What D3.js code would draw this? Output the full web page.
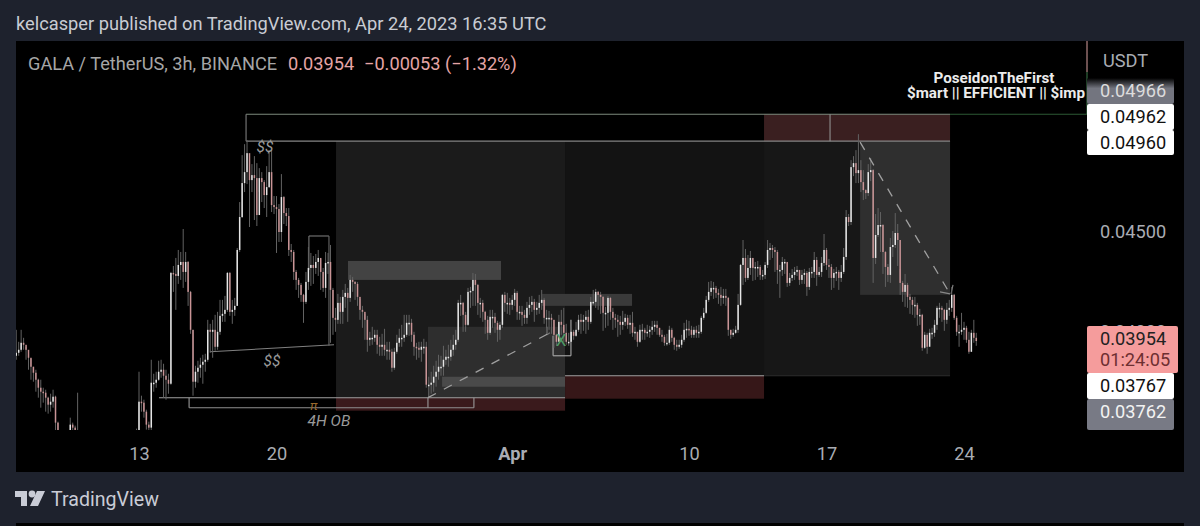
<!DOCTYPE html>
<html>
<head>
<title>GALA / TetherUS</title>
<script src="https://d3js.org/d3.v7.min.js"></script>
<style>
	body { margin: 0; background: #1e222d; overflow: hidden; }
	svg { display: block; font-family: Roboto, sans-serif; }
	.axis text { font-family: Roboto, sans-serif; font-size: 18.2px; fill: #a9acb3; }
	.axis path, .axis line { display: none; }
	.note { font-style: italic; font-size: 15.5px; fill: #9a9a9a; }
</style>
</head>
<body>
<script>
// prices are in units of 0.00001, one row per day, first candle Mar 6 18:00 UTC, 3h bars
var closes = [
	3895,3910,3945,3935,3910,3870,3825,3795,
	3760,3720,3700,3695,3670,3635,3650,3675,
	3545,3460,3410,3385,3385,3435,3535,3520,
	3485,3500,3460,3435,3410,3385,3385,3410,
	3400,3385,3410,3435,3410,3385,3400,3410,
	3420,3410,3435,3460,3450,3435,3460,3485,
	3460,3500,3650,3645,3600,3535,3520,3745,
	3745,3760,3800,3810,3780,3760,3740,4295,
	4290,4280,4335,4350,4300,4350,4200,4010,
	3750,3800,3820,3835,3850,3860,4010,4000,
	4010,3925,4000,4080,4090,4110,4295,4100,
	4110,4130,4410,4575,4745,4800,4895,4760,
	4785,4770,4585,4770,4750,4685,4725,4800,
	4635,4625,4615,4500,4675,4595,4580,4410,
	4400,4300,4260,4235,4185,4150,4250,4320,
	4335,4320,4350,4370,4300,4220,4345,4350,
	4210,4070,4060,4145,4100,4175,4195,4170,
	4260,4250,4240,4175,4110,4100,4060,3960,
	3970,3970,3985,3935,3925,3935,3910,3910,
	3900,3820,3900,3945,3970,3970,3985,4045,
	4045,3985,3925,3920,3910,3925,3925,3735,
	3735,3745,3775,3800,3825,3825,3860,3875,
	3875,3910,3935,3960,4145,4145,4085,4035,
	4200,4205,4260,4235,4145,4145,4100,4060,
	3995,4075,4075,4045,4010,4035,4185,4145,
	4145,4135,4160,4195,4100,4100,4085,4070,
	4120,4135,4150,4110,4120,4145,4160,4070,
	4070,4070,4060,3985,3950,4050,4035,3995,
	3950,3950,4000,3980,4010,4060,4050,4060,
	4075,4050,4150,4150,4200,4185,4175,4095,
	4095,4170,4100,4070,4060,4050,4035,4050,
	4070,4035,4045,3995,4000,3950,4010,4010,
	3995,4000,4010,4025,4035,4020,3985,3975,
	3945,3945,4010,3970,3935,3925,3935,3960,
	4010,4015,4010,3985,4010,3995,4000,4070,
	4095,4160,4200,4220,4220,4195,4185,4170,
	4180,4170,4010,3985,3995,4010,4135,4335,
	4370,4270,4320,4370,4320,4325,4325,4285,
	4285,4335,4410,4420,4410,4400,4310,4310,
	4350,4350,4245,4270,4285,4300,4310,4260,
	4285,4295,4225,4300,4300,4360,4285,4300,
	4345,4410,4335,4325,4270,4295,4300,4270,
	4300,4375,4575,4550,4825,4845,4795,4810,
	4750,4710,4695,4800,4810,4370,4485,4535,
	4535,4400,4325,4285,4425,4435,4495,4460,
	4245,4200,4235,4175,4160,4135,4135,4085,
	4085,3920,3985,3925,3995,3995,4035,4120,
	4120,4110,4060,4110,4120,4185,4070,4000,
	4000,4010,4020,3960,3900,3995,3970,3954
];
var highs = [
	4010,3950,4010,3970,3925,3890,3865,3825,
	3810,3765,3760,3720,3710,3675,3690,3710,
	3680,3550,3465,3420,3400,3450,3570,3545,
	3530,3695,3505,3470,3440,3415,3410,3430,
	3425,3420,3430,3455,3440,3415,3430,3440,
	3445,3435,3465,3480,3475,3465,3485,3500,
	3490,3515,3800,3680,3660,3610,3550,3860,
	3790,3800,3855,3860,3840,3810,3790,4300,
	4330,4370,4410,4400,4515,4400,4355,4205,
	4010,3830,3855,3870,3885,3890,4060,4040,
	4060,4085,4100,4160,4160,4180,4300,4300,
	4160,4170,4420,4650,4885,4940,4960,4880,
	4840,4880,4845,4820,4800,4760,4830,4910,
	4910,4680,4680,4640,4790,4680,4620,4620,
	4440,4410,4310,4270,4245,4190,4300,4425,
	4395,4380,4390,4410,4365,4320,4400,4395,
	4435,4220,4120,4190,4175,4210,4240,4220,
	4285,4275,4255,4250,4165,4130,4090,4080,
	4000,4025,4010,4010,3975,3990,4015,3950,
	3950,3915,3920,3985,4015,4035,4085,4085,
	4085,4065,4000,3945,3950,3950,3965,3950,
	3775,3800,3830,3855,3885,3880,3930,3910,
	3935,3960,3985,4010,4160,4185,4150,4100,
	4220,4225,4295,4290,4240,4170,4160,4105,
	4080,4110,4110,4095,4055,4050,4190,4200,
	4195,4170,4185,4215,4205,4130,4130,4110,
	4150,4175,4180,4165,4150,4185,4210,4170,
	4110,4105,4090,4060,3990,4085,4110,4120,
	4040,3995,4025,4010,4050,4085,4090,4085,
	4105,4110,4175,4210,4215,4205,4200,4180,
	4125,4180,4175,4120,4090,4085,4080,4105,
	4090,4085,4085,4100,4025,4000,4035,4040,
	4020,4035,4030,4055,4055,4055,4020,4010,
	3985,3990,4030,4020,3975,3960,3960,3985,
	4045,4060,4055,4030,4025,4030,4035,4080,
	4120,4180,4250,4255,4250,4230,4215,4225,
	4215,4215,4175,4010,4015,4030,4190,4340,
	4460,4415,4385,4405,4370,4350,4355,4335,
	4310,4350,4460,4445,4435,4425,4410,4335,
	4375,4365,4345,4295,4315,4325,4330,4305,
	4310,4315,4305,4320,4325,4400,4375,4325,
	4375,4490,4420,4365,4340,4315,4325,4310,
	4335,4420,4610,4590,4860,4880,4910,4990,
	4860,4810,4715,4840,4870,4815,4590,4620,
	4600,4540,4405,4340,4470,4505,4595,4540,
	4315,4255,4290,4245,4190,4175,4175,4145,
	4115,4090,4000,3995,4015,4020,4060,4130,
	4145,4130,4115,4145,4160,4225,4190,4080,
	4035,4095,4050,4030,4000,4010,4060,3995
];
var lows = [
	3860,3880,3900,3910,3860,3810,3760,3750,
	3700,3670,3620,3645,3600,3590,3600,3620,
	3480,3400,3340,3340,3340,3360,3420,3420,
	3430,3440,3410,3390,3370,3350,3350,3370,
	3360,3360,3375,3400,3380,3350,3370,3385,
	3385,3385,3405,3425,3420,3405,3425,3450,
	3430,3450,3480,3600,3570,3510,3480,3500,
	3700,3720,3755,3770,3670,3660,3690,3735,
	4200,4110,4240,4260,4220,4250,4130,3990,
	3680,3720,3745,3770,3740,3800,3850,3895,
	3870,3905,3910,3985,4050,4050,4100,4080,
	4040,4080,4130,4400,4570,4700,4740,4525,
	4700,4560,4530,4700,4650,4620,4575,4720,
	4600,4590,4395,4450,4450,4540,4530,4380,
	4350,4260,4210,4170,4150,4045,4140,4210,
	4230,4240,4290,4280,4210,4200,4170,4290,
	3945,3985,4000,4040,4040,4040,4120,4050,
	4150,4200,4160,4130,4060,4020,3960,3900,
	3930,3935,3950,3890,3880,3880,3880,3860,
	3860,3800,3810,3890,3925,3925,3950,3975,
	3980,3950,3880,3860,3870,3850,3890,3720,
	3670,3690,3700,3725,3760,3780,3780,3835,
	3825,3855,3880,3910,3950,4080,4000,4000,
	4030,4120,4130,4130,4085,4070,4050,3990,
	3960,3985,4020,3995,3950,3960,4020,4100,
	4090,4085,4110,4130,4060,4060,4030,4040,
	4040,4085,4100,4050,4085,4090,4110,4040,
	4020,4010,3990,3920,3930,3980,3985,3950,
	3935,3930,3955,3960,3975,4000,3990,4005,
	3990,4010,4040,4135,4120,4110,4090,4005,
	4020,4030,4060,4010,4020,3975,3985,4010,
	4030,4015,3990,3975,3960,3925,3945,3960,
	3960,3975,3970,3985,4000,3985,3975,3950,
	3930,3930,3935,3950,3910,3905,3915,3920,
	3950,3970,3980,3970,3970,3970,3970,3990,
	4060,4090,4150,4180,4165,4170,4140,4130,
	4140,4130,3980,3965,3975,3990,3995,4130,
	4235,4250,4260,4285,4255,4260,4275,4260,
	4260,4265,4320,4360,4370,4300,4240,4170,
	4280,4290,4225,4230,4255,4260,4280,4235,
	4240,4240,4180,4210,4270,4270,4230,4275,
	4275,4330,4310,4270,4210,4220,4255,4210,
	4250,4290,4360,4530,4535,4780,4745,4745,
	4700,4660,4665,4680,4755,4245,4340,4475,
	4400,4290,4225,4250,4245,4375,4420,4330,
	4185,4150,4125,4120,4090,4085,4070,4030,
	4035,3905,3915,3890,3930,3965,3975,4010,
	4070,4050,4005,4040,4080,4100,4060,3980,
	3925,3985,3960,3945,3890,3900,3945,3930
];
var firstOpen = 3880;

// axis
var tickDays = [13, 20, 32, 41, 48, 55];
var tickLabels = ["13", "20", "Apr", "10", "17", "24"];
var priceTicks = [4500, 4000];

// drawings, days counted from Mar 1 (32 = Apr 1)
var zones = [
	{from: 23.03, to: 34.69, top: 4955, bottom: 3670, kind: "#1b1b1b"},
	{from: 34.69, to: 44.82, top: 4955, bottom: 3780, kind: "#131313"},
	{from: 44.82, to: 54.29, top: 4955, bottom: 3780, kind: "#171717"},
	{from: 44.82, to: 54.29, top: 5090, bottom: 4955, kind: "#3a1f20"},
	{from: 23.03, to: 34.69, top: 3670, bottom: 3605, kind: "#3a1a1c"},
	{from: 34.69, to: 44.82, top: 3780, bottom: 3665, kind: "#361718"},
	{from: 27.71, to: 34.69, top: 4025, bottom: 3670, kind: "#2e2e2e"},
	{from: 28.43, to: 34.69, top: 3775, bottom: 3725, kind: "#4a4a4a"},
	{from: 23.64, to: 31.43, top: 4355, bottom: 4260, kind: "#434343"},
	{from: 33.52, to: 38.10, top: 4190, bottom: 4130, kind: "#3a3a3a"},
	{from: 49.71, to: 54.29, top: 4955, bottom: 4185, kind: "#2f2f2f"}
];
var lines = [
	{d1: 18.45, p1: 5090, d2: 54.29, p2: 5090, color: "#7d8a7d"},
	{d1: 54.29, p1: 5090, d2: 61.26, p2: 5090, color: "#2c5a35"},
	{d1: 18.45, p1: 5090, d2: 18.45, p2: 4955, color: "#7c7c7c"},
	{d1: 18.45, p1: 4955, d2: 54.29, p2: 4955, color: "#858585"},
	{d1: 48.18, p1: 5090, d2: 48.18, p2: 4955, color: "#8f8f8f"},
	{d1: 14.02, p1: 3670, d2: 34.69, p2: 3670, color: "#a0a0a0"},
	{d1: 15.55, p1: 3670, d2: 15.55, p2: 3620, color: "#999"},
	{d1: 15.55, p1: 3620, d2: 30.05, p2: 3620, color: "#8f8f8f"},
	{d1: 30.05, p1: 3670, d2: 30.05, p2: 3620, color: "#999"},
	{d1: 27.71, p1: 3670, d2: 27.71, p2: 3620, color: "#999"},
	{d1: 34.69, p1: 3780, d2: 44.82, p2: 3780, color: "#a0a0a0"},
	{d1: 44.82, p1: 3780, d2: 54.29, p2: 3780, color: "#2c2c2c"},
	{d1: 16.61, p1: 3900, d2: 22.93, p2: 3935, color: "#808080"},
	{d1: 21.65, p1: 4480, d2: 21.65, p2: 4310, color: "#777"},
	{d1: 21.65, p1: 4480, d2: 22.67, p2: 4480, color: "#777"},
	{d1: 22.67, p1: 4480, d2: 22.67, p2: 3930, color: "#666"},
	{d1: 34.08, p1: 3980, d2: 34.08, p2: 3880, color: "#aaa"},
	{d1: 34.08, p1: 3880, d2: 34.99, p2: 3880, color: "#aaa"},
	{d1: 34.99, p1: 4060, d2: 34.99, p2: 3880, color: "#aaa"},
	{d1: 33.77, p1: 4025, d2: 33.77, p2: 3985, color: "#777"},
	{d1: 33.77, p1: 3985, d2: 33.92, p2: 3995, color: "#777"},
	{d1: 53.78, p1: 4200, d2: 54.29, p2: 4190, color: "#888"},
	{d1: 54.34, p1: 4190, d2: 54.44, p2: 4235, color: "#888"}
];
var dashed = [
	{d1: 27.71, p1: 3670, d2: 33.92, p2: 3995},
	{d1: 49.71, p1: 4950, d2: 54.29, p2: 4190}
];
var notes = [
	{day: 19.41, price: 4925, text: "$$"},
	{day: 19.77, price: 3855, text: "$$"},
	{day: 22.67, price: 3555, text: "4H OB"}
];

var width = 1200, height = 526;
var svg = d3.select("body").append("svg").attr("width", width).attr("height", height);

var x = d3.scaleUtc()
	.domain([day(13), day(55)])
	.range([139, 964]);
var y = d3.scaleLinear()
	.domain([4500, 3954])
	.range([232, 341]);

function day(d) {
	return new Date(Date.UTC(2023, 2, 1) + (d - 1) * 864e5);
}
function barTime(i) {
	return new Date(Date.UTC(2023, 2, 6, 18) + i * 3 * 36e5);
}

// frame
svg.append("rect").attr("x", 16).attr("y", 41).attr("width", 1168).attr("height", 431).attr("fill", "#000");
svg.append("rect").attr("x", 16).attr("y", 523).attr("width", 1168).attr("height", 3).attr("fill", "#000");

svg.append("text").attr("x", 16).attr("y", 30)
	.attr("font-size", 18.25).attr("fill", "#c9ccd3")
	.text("kelcasper published on TradingView.com, Apr 24, 2023 16:35 UTC");

svg.append("clipPath").attr("id", "pane").append("rect")
	.attr("x", 16).attr("y", 41).attr("width", 1071).attr("height", 389);

var pane = svg.append("g").attr("clip-path", "url(#pane)");

pane.selectAll("rect.zone").data(zones).enter().append("rect")
	.attr("class", "zone")
	.attr("x", function(d) { return x(day(d.from)); })
	.attr("width", function(d) { return x(day(d.to)) - x(day(d.from)); })
	.attr("y", function(d) { return y(d.top); })
	.attr("height", function(d) { return y(d.bottom) - y(d.top); })
	.attr("fill", function(d) { return d.kind; });

pane.selectAll("line.draw").data(lines).enter().append("line")
	.attr("class", "draw")
	.attr("x1", function(d) { return x(day(d.d1)); })
	.attr("x2", function(d) { return x(day(d.d2)); })
	.attr("y1", function(d) { return y(d.p1); })
	.attr("y2", function(d) { return y(d.p2); })
	.attr("stroke", function(d) { return d.color; })
	.attr("stroke-width", 1.1);

// candles
var bars = pane.selectAll("g.bar").data(closes).enter().append("g").attr("class", "bar");

bars.append("line")
	.attr("x1", function(d, i) { return x(barTime(i)); })
	.attr("x2", function(d, i) { return x(barTime(i)); })
	.attr("y1", function(d, i) { return y(highs[i]); })
	.attr("y2", function(d, i) { return y(lows[i]); })
	.attr("stroke", "#626262")
	.attr("stroke-width", 1);

bars.append("rect")
	.attr("x", function(d, i) { return x(barTime(i)) - 0.75; })
	.attr("width", 1.5)
	.attr("y", function(d, i) { return y(Math.max(d, i ? closes[i - 1] : firstOpen)); })
	.attr("height", function(d, i) {
		return Math.max(1.5, Math.abs(y(d) - y(i ? closes[i - 1] : firstOpen)));
	})
	.attr("fill", function(d, i) {
		return d >= (i ? closes[i - 1] : firstOpen) ? "#e6e6e6" : "#c99496";
	});

pane.selectAll("line.dash").data(dashed).enter().append("line")
	.attr("class", "dash")
	.attr("x1", function(d) { return x(day(d.d1)); })
	.attr("x2", function(d) { return x(day(d.d2)); })
	.attr("y1", function(d) { return y(d.p1); })
	.attr("y2", function(d) { return y(d.p2); })
	.attr("stroke", "#a0a0a0")
	.attr("stroke-width", 1.3)
	.attr("stroke-dasharray", "9 9");

pane.selectAll("text.note").data(notes).enter().append("text")
	.attr("class", "note")
	.attr("x", function(d) { return x(day(d.day)); })
	.attr("y", function(d) { return y(d.price) + 5; })
	.attr("text-anchor", "middle")
	.text(function(d) { return d.text; });

pane.append("text").attr("x", x(day(21.7))).attr("y", y(3608))
	.attr("font-size", 13).attr("font-style", "italic").attr("fill", "#9a6a2c").text("π");
pane.append("text").attr("x", x(day(34.49))).attr("y", y(3960) + 6).attr("text-anchor", "middle")
	.attr("font-size", 17).attr("fill", "#4f9a66").text("X");

// legend
var legend = svg.append("text").attr("x", 28).attr("y", 70).attr("font-size", 18.2);
legend.append("tspan").attr("fill", "#a6a6a6").text("GALA / TetherUS, 3h, BINANCE");
legend.append("tspan").attr("x", 288).attr("fill", "#e5a5a6").text("0.03954");
legend.append("tspan").attr("x", 364).attr("fill", "#e5a5a6").text("−0.00053 (−1.32%)");

svg.append("text").attr("x", 994).attr("y", 83).attr("text-anchor", "middle")
	.attr("font-size", 15.2).attr("font-weight", 700).attr("fill", "#ececec").text("PoseidonTheFirst");
svg.append("text").attr("x", 1085).attr("y", 98).attr("text-anchor", "end")
	.attr("font-size", 15.2).attr("font-weight", 700).attr("fill", "#ececec").text("$mart || EFFICIENT || $imp");

// axes
svg.append("g").attr("class", "axis")
	.attr("transform", "translate(0,444)")
	.call(d3.axisBottom(x)
		.tickValues(tickDays.map(day))
		.tickSize(0)
		.tickFormat(function(d, i) { return tickLabels[i]; }))
	.selectAll("text")
	.style("font-weight", function(d, i) { return tickLabels[i] == "Apr" ? 700 : 400; });

svg.append("g").attr("class", "axis")
	.attr("transform", "translate(1087,0)")
	.call(d3.axisRight(y)
		.tickValues(priceTicks)
		.tickSize(0)
		.tickPadding(13)
		.tickFormat(function(d) { return (d / 1e5).toFixed(5); }));

svg.append("line").attr("x1", 1087).attr("x2", 1087).attr("y1", 41).attr("y2", 72).attr("stroke", "#d9a0a0");
svg.append("line").attr("x1", 1087).attr("x2", 1087).attr("y1", 72).attr("y2", 114).attr("stroke", "#3c7a4a");

svg.append("text").attr("x", 1103).attr("y", 67).attr("font-size", 18.2).attr("fill", "#a9acb3").text("USDT");

// price labels
var grad = svg.append("linearGradient").attr("id", "fade").attr("x1", 0).attr("x2", 0).attr("y1", 0).attr("y2", 1);
grad.append("stop").attr("offset", 0).attr("stop-color", "#000");
grad.append("stop").attr("offset", 0.4).attr("stop-color", "#73757f");

var labelValues = ["0.04966", "0.04962", "0.04960", "0.03767", "0.03762"];
var labelFills = ["url(#fade)", "#fff", "#fff", "#fff", "#787a85"];
var labelInk = ["#dcdcdc", "#111", "#111", "#111", "#f2f2f2"];
var labelTop = [78, 104, 130, 373, 399];
var labelHeight = [26, 26, 25, 26, 31];

labelValues.forEach(function(v, i) {
	svg.append("rect").attr("x", 1087).attr("y", labelTop[i]).attr("width", 87).attr("height", labelHeight[i])
		.attr("rx", 2).attr("fill", labelFills[i]);
	svg.append("text").attr("x", 1100).attr("y", labelTop[i] + 19).attr("font-size", 18.2)
		.attr("fill", labelInk[i]).text(v);
});

svg.append("rect").attr("x", 1087).attr("y", 326).attr("width", 91).attr("height", 47).attr("rx", 2).attr("fill", "#f59c9c");
svg.append("text").attr("x", 1100).attr("y", 345).attr("font-size", 18.2).attr("fill", "#222").text("0.03954");
svg.append("text").attr("x", 1100).attr("y", 366).attr("font-size", 18.2).attr("fill", "#6e2f31").text("01:24:05");

// footer logo
svg.append("path").attr("fill", "#c9ccd6")
	.attr("d", "M15 491h12v15h-6v-9h-6zM30 506l7-15h8l-7 15z");
svg.append("circle").attr("cx", 32).attr("cy", 494).attr("r", 3.4).attr("fill", "#c9ccd6");
svg.append("text").attr("x", 51).attr("y", 506).attr("font-size", 19.6).attr("fill", "#c9ccd6").text("TradingView");
</script>
</body>
</html>
